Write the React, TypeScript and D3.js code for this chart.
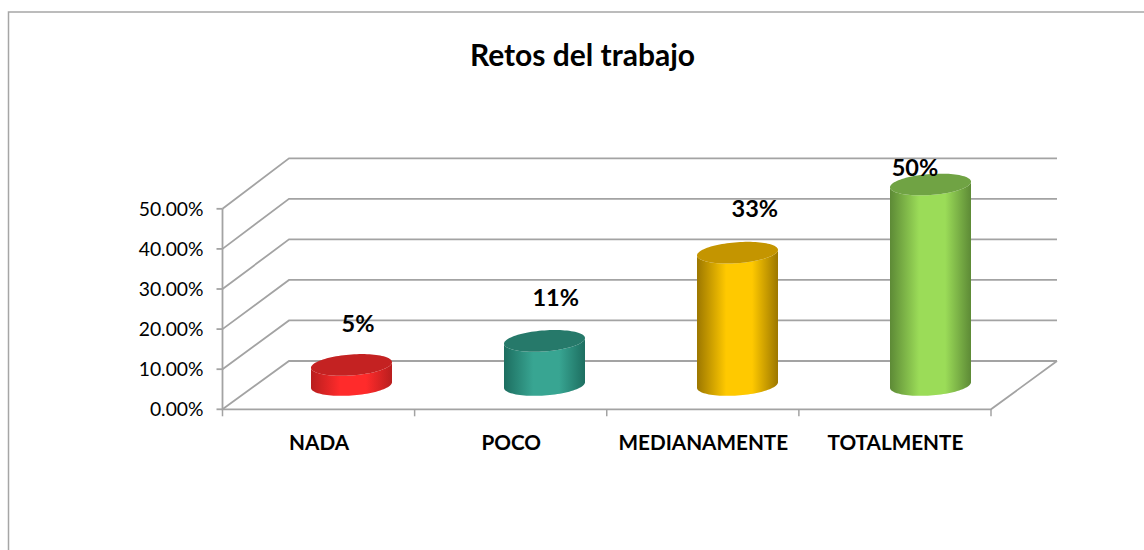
import React from "react";
import * as d3 from "d3";

const title = "Retos del trabajo";
const categories = ["NADA", "POCO", "MEDIANAMENTE", "TOTALMENTE"];
const values = [0.05, 0.11, 0.33, 0.5];
const valueLabels = ["5%", "11%", "33%", "50%"];
const ticks = [0, 0.1, 0.2, 0.3, 0.4, 0.5];
const palette = [
  { id: "red", edge: "#b81e1e", mid: "#ff2b2b", top: "#c42222" },
  { id: "teal", edge: "#1d6e60", mid: "#38a592", top: "#26796a" },
  { id: "gold", edge: "#9c7700", mid: "#ffc900", top: "#c49500" },
  { id: "green", edge: "#5d8a36", mid: "#9bdc58", top: "#70a344" },
];
const labelOffsets = [
  { dx: 9.5, y: 332 },
  { dx: 15, y: 305.5 },
  { dx: 22, y: 217 },
  { dx: -10, y: 175.5 },
];

const W = 1144;
const H = 550;
const FONT = "Lato, Carlito, sans-serif";
const AXIS = "#a3a3a3";
const FRONT_LEFT = 222.5;
const FRONT_RIGHT = 991;
const BACK_LEFT = 289;
const BACK_RIGHT = 1057;

const y = d3.scaleLinear().domain([0, 0.5]).range([409.3, 208.8]);
const yBack = d3.scaleLinear().domain([0, 0.5]).range([361, 158.3]);
const x = d3.scaleBand().domain(categories).range([FRONT_LEFT, FRONT_RIGHT]);
const xBar = d3.scaleBand().domain(categories).range([255, 1027]);

const RX = 40.5;
const RY = 10.5;
const SHEAR = 2.8;
const BASE_Y = y(0) - 24.3;

const angles = d3.range(0, 1.0001, 1 / 48).map((f) => f * Math.PI);

const line = d3.line<[number, number]>();

function rim(cx: number, cy: number, t: number): [number, number] {
  return [cx + RX * Math.cos(t), cy - SHEAR * Math.cos(t) + RY * Math.sin(t)];
}

function Cylinder({ cat, value, i }: { cat: string; value: number; i: number }) {
  const cx = (xBar(cat) as number) + xBar.bandwidth() / 2;
  const height = y(0) - y(value);
  const topY = BASE_Y - height;
  const bottomArc = angles.map((t) => rim(cx, BASE_Y, t));
  const topArcBack = [...angles].reverse().map((t) => rim(cx, topY, t));
  const side = line([...bottomArc, ...topArcBack]) + "Z";
  const topFront = angles.map((t) => rim(cx, topY, t));
  const topRear = angles.map((t) => rim(cx, topY, t + Math.PI));
  const top = line([...topFront, ...topRear]) + "Z";
  return (
    <g>
      <path d={side} fill={`url(#grad-${palette[i].id})`} />
      <path d={top} fill={palette[i].top} />
    </g>
  );
}

export default function App() {
  const tickXs = [...categories.map((c) => x(c) as number), FRONT_RIGHT];
  return (
    <svg
      width={W}
      height={H}
      viewBox={`0 0 ${W} ${H}`}
      style={{ position: "absolute", left: 0, top: 0, background: "#fff", display: "block" }}
    >
      <defs>
        {palette.map((p) => (
          <linearGradient id={`grad-${p.id}`} key={p.id} x1="0" x2="1" y1="0" y2="0">
            <stop offset="0" stopColor={p.edge} />
            <stop offset="0.36" stopColor={p.mid} />
            <stop offset="0.68" stopColor={p.mid} />
            <stop offset="1" stopColor={p.edge} />
          </linearGradient>
        ))}
      </defs>

      <path d={`M8.5,550V12H${W}`} fill="none" stroke="#a6a6a6" strokeWidth={1.5} />

      <text x={582.5} y={66} textAnchor="middle" fontFamily={FONT} fontWeight={700} fontSize={30} fill="#000">
        {title}
      </text>

      {ticks.map((t) => (
        <g key={t} fill="none" stroke={AXIS} strokeWidth={1.8}>
          <path d={`M${FRONT_LEFT},${y(t)}L${BACK_LEFT},${yBack(t)}H${BACK_RIGHT}`} />
          <path d={`M${FRONT_LEFT - 6},${y(t)}H${FRONT_LEFT}`} />
        </g>
      ))}
      <path
        d={`M${FRONT_LEFT},${y(0.5)}V${y(0)}H${FRONT_RIGHT}L${BACK_RIGHT},${yBack(0)}`}
        fill="none"
        stroke={AXIS}
        strokeWidth={1.8}
      />
      {tickXs.map((tx) => (
        <path key={tx} d={`M${tx},${y(0)}V${y(0) + 7}`} stroke={AXIS} strokeWidth={1.5} />
      ))}

      {ticks.map((t) => (
        <text key={t} x={203.5} y={y(t) + 7} textAnchor="end" fontFamily={FONT} fontSize={19.3} fill="#000">
          {d3.format(".2%")(t)}
        </text>
      ))}

      {categories.map((c, i) => (
        <Cylinder key={c} cat={c} value={values[i]} i={i} />
      ))}

      {categories.map((c) => (
        <text
          key={c}
          x={(x(c) as number) + x.bandwidth() / 2 + 0.5}
          y={450}
          textAnchor="middle"
          fontFamily={FONT}
          fontWeight={700}
          fontSize={20.7}
          fill="#000"
        >
          {c}
        </text>
      ))}

      {categories.map((c, i) => (
        <text
          key={c}
          x={(x(c) as number) + x.bandwidth() / 2 + labelOffsets[i].dx + 30}
          y={labelOffsets[i].y}
          textAnchor="middle"
          fontFamily={FONT}
          fontWeight={700}
          fontSize={23.5}
          fill="#000"
        >
          {valueLabels[i]}
        </text>
      ))}
    </svg>
  );
}
